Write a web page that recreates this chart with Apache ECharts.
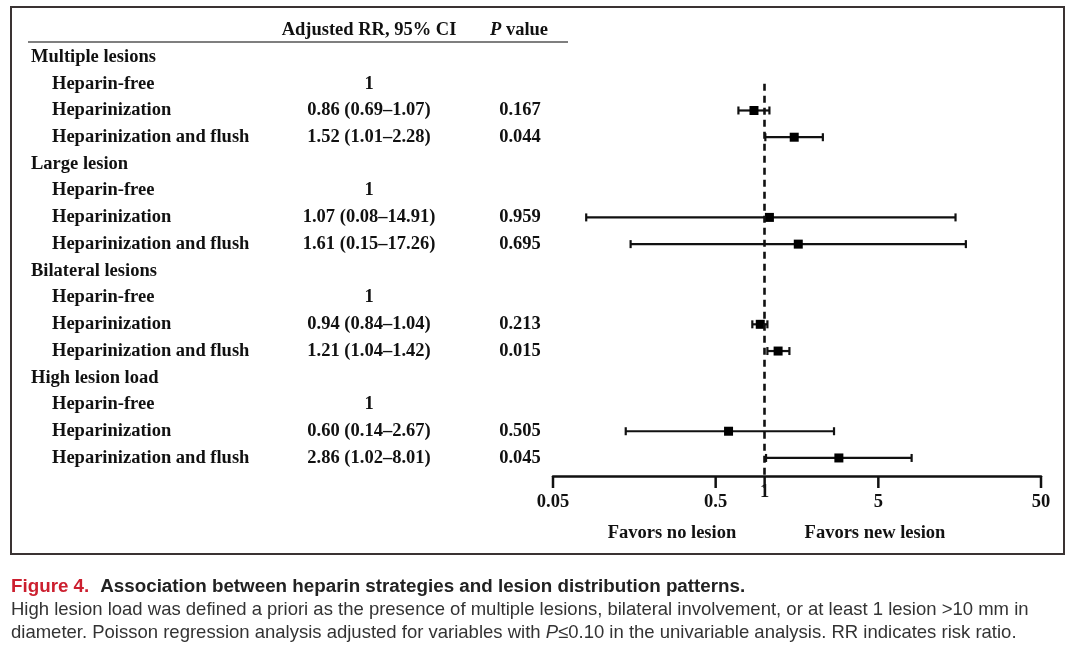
<!DOCTYPE html>
<html>
<head>
<meta charset="utf-8">
<script src="https://cdn.jsdelivr.net/npm/echarts@6/dist/echarts.min.js"></script>
<style>
  html, body { margin: 0; padding: 0; background: #fff; }
  #chart { width: 1080px; height: 658px; }
</style>
</head>
<body>
<div id="chart"></div>
<script>
// table / forest data
const groups = ['Multiple lesions', 'Large lesion', 'Bilateral lesions', 'High lesion load'];
const strategies = ['Heparin-free', 'Heparinization', 'Heparinization and flush'];
const rrValues = [[1, 0.86, 1.52], [1, 1.07, 1.61], [1, 0.94, 1.21], [1, 0.60, 2.86]];
const ciLower = [[null, 0.69, 1.01], [null, 0.08, 0.15], [null, 0.84, 1.04], [null, 0.14, 1.02]];
const ciUpper = [[null, 1.07, 2.28], [null, 14.91, 17.26], [null, 1.04, 1.42], [null, 2.67, 8.01]];
const pValues = [[null, 0.167, 0.044], [null, 0.959, 0.695], [null, 0.213, 0.015], [null, 0.505, 0.045]];
const xTicks = [0.05, 0.5, 1, 5, 50];

const serif = '"Liberation Serif", "Times New Roman", serif';
const sans = '"Liberation Sans", Arial, sans-serif';
const ink = '#111';

const rowMin = -1;        // header row sits on the top edge
const rowMax = 15.675;    // x axis line just under last row

function rowOf(g, s) { return g * 4 + 1 + s; }

const rowText = {};
rowText[-1] = '{hn| }{r|Adjusted RR, 95% CI}{sp| }{pi|P}{p2| value}';
const points = [];
const bars = [];
groups.forEach((g, gi) => {
  rowText[gi * 4] = '{g|' + g + '}';
  strategies.forEach((s, si) => {
    const row = rowOf(gi, si);
    const lo = ciLower[gi][si], hi = ciUpper[gi][si], rr = rrValues[gi][si];
    let rrTxt = '1';
    if (lo != null) {
      rrTxt = rr.toFixed(2) + ' (' + lo.toFixed(2) + '\u2013' + hi.toFixed(2) + ')';
      points.push([rr, row]);
      bars.push([lo, hi, row]);
    }
    const p = pValues[gi][si];
    rowText[row] = '{ind| }{n|' + s + '}{r|' + rrTxt + '}{sp| }{p|' + (p == null ? ' ' : p.toFixed(3)) + '}';
  });
});

const base = { fontFamily: serif, fontWeight: 'bold', fontSize: 18.5, color: ink };

const chart = echarts.init(document.getElementById('chart'));
chart.setOption({
  animation: false,
  backgroundColor: '#fff',
  grid: { left: 553, right: 39, top: 30.3, bottom: 182 },
  xAxis: {
    type: 'log',
    logBase: 10,
    min: 0.05,
    max: 50,
    axisLine: { onZero: false, lineStyle: { color: ink, width: 2.5 } },
    axisTick: { show: false },
    axisLabel: { show: false },
    splitLine: { show: false }
  },
  yAxis: {
    type: 'value',
    inverse: true,
    min: rowMin,
    max: rowMax,
    interval: 1,
    axisLine: { show: false },
    axisTick: { show: false },
    splitLine: { show: false },
    axisLabel: {
      align: 'left',
      margin: 522,
      showMaxLabel: false,
      formatter: v => {
        const r = Math.round(v);
        return Math.abs(v - r) < 1e-6 && rowText[r] ? rowText[r] : '';
      },
      rich: {
        g: { ...base, width: 519, align: 'left' },
        ind: { ...base, width: 21 },
        hn: { ...base, width: 238 },
        n: { ...base, width: 217, align: 'left' },
        r: { ...base, width: 200, align: 'center' },
        sp: { ...base, width: 21 },
        p: { ...base, width: 60, align: 'center' },
        pi: { ...base, fontStyle: 'italic' },
        p2: { ...base }
      }
    }
  },
  series: [
    {
      type: 'custom',
      name: 'ci',
      clip: false,
      encode: { x: [0, 1], y: 2 },
      data: bars,
      z: 2,
      renderItem: (params, api) => {
        const a = api.coord([api.value(0), api.value(2)]);
        const b = api.coord([api.value(1), api.value(2)]);
        const st = { stroke: ink, lineWidth: 2.2 };
        return {
          type: 'group',
          children: [
            { type: 'line', shape: { x1: a[0], y1: a[1], x2: b[0], y2: b[1] }, style: st },
            { type: 'line', shape: { x1: a[0], y1: a[1] - 4, x2: a[0], y2: a[1] + 4 }, style: st },
            { type: 'line', shape: { x1: b[0], y1: b[1] - 4, x2: b[0], y2: b[1] + 4 }, style: st }
          ]
        };
      }
    },
    {
      type: 'scatter',
      name: 'rr',
      data: points,
      symbol: 'rect',
      symbolSize: 9,
      itemStyle: { color: '#000', opacity: 1 },
      z: 3,
      markLine: {
        silent: true,
        symbol: ['none', 'none'],
        label: { show: false },
        lineStyle: { color: ink, width: 2.6, type: [7, 5], opacity: 1 },
        data: [[{ coord: [1, 1] }, { coord: [1, rowMax] }]]
      }
    },
    {
      type: 'custom',
      name: 'ticks',
      clip: false,
      data: xTicks.map(v => [v, rowMax]),
      renderItem: (params, api) => {
        const v = api.value(0);
        const p = api.coord([v, rowMax]);
        return {
          type: 'group',
          children: [
            { type: 'line', shape: { x1: p[0], y1: p[1], x2: p[0], y2: p[1] + 12 },
              style: { stroke: ink, lineWidth: 2.5 } },
            { type: 'text', style: {
                x: p[0], y: p[1] + (v === 1 ? 16 : 26), text: String(v),
                align: 'center', verticalAlign: 'middle',
                font: 'bold 18.5px ' + serif, fill: ink } }
          ]
        };
      }
    }
  ],
  graphic: [
    { type: 'rect', shape: { x: 11, y: 7, width: 1053, height: 547 },
      style: { fill: 'none', stroke: '#3a3333', lineWidth: 2 } },
    { type: 'line', shape: { x1: 28, y1: 42, x2: 568, y2: 42 },
      style: { stroke: '#555', lineWidth: 1.5 } },
    { type: 'text', style: { x: 672, y: 533, text: 'Favors no lesion', align: 'center',
        verticalAlign: 'middle', font: 'bold 18.5px ' + serif, fill: ink } },
    { type: 'text', style: { x: 875, y: 533, text: 'Favors new lesion', align: 'center',
        verticalAlign: 'middle', font: 'bold 18.5px ' + serif, fill: ink } },
    { type: 'text', style: {
        x: 11, y: 587, verticalAlign: 'middle',
        text: '{f|Figure 4.}{s| }{t|Association between heparin strategies and lesion distribution patterns.}',
        rich: {
          f: { fontFamily: sans, fontWeight: 'bold', fontSize: 18.8, fill: '#cc1f2f' },
          s: { fontFamily: sans, fontSize: 18.8, width: 11 },
          t: { fontFamily: sans, fontWeight: 'bold', fontSize: 18.8, fill: '#222' }
        } } },
    { type: 'text', style: {
        x: 11, y: 610, verticalAlign: 'middle',
        text: 'High lesion load was defined a priori as the presence of multiple lesions, bilateral involvement, or at least 1 lesion >10 mm in',
        font: '18.5px ' + sans, fill: '#333' } },
    { type: 'text', style: {
        x: 11, y: 633, verticalAlign: 'middle',
        text: '{a|diameter. Poisson regression analysis adjusted for variables with }{i|P}{a|\u22640.10 in the univariable analysis. RR indicates risk ratio.}',
        rich: {
          a: { fontFamily: sans, fontSize: 18.5, fill: '#333' },
          i: { fontFamily: sans, fontSize: 18.5, fontStyle: 'italic', fill: '#333' }
        } } }
  ]
});
window.addEventListener('resize', () => chart.resize());
</script>
</body>
</html>
